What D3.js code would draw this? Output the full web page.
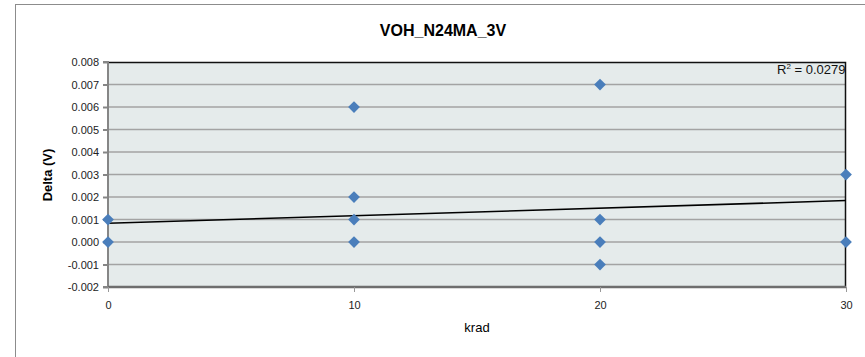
<!DOCTYPE html>
<html lang="en">
<head>
<meta charset="utf-8">
<title>VOH_N24MA_3V</title>
<script src="https://d3js.org/d3.v7.min.js"></script>
<style>
  body { margin: 0; background: #fff; }
  svg { font-family: "Liberation Sans", Arial, sans-serif; }
  .grid line { stroke: #a3a3a3; stroke-width: 1.5; }
  .tick text { fill: #222; }
</style>
</head>
<body>
<div id="chart"></div>
<script>
// data
var kradValues  = [0, 0, 10, 10, 10, 10, 20, 20, 20, 20, 30, 30];
var deltaValues = [0.001, 0.000, 0.006, 0.002, 0.001, 0.000, 0.007, 0.001, 0.000, -0.001, 0.003, 0.000];
var trendX = [0, 30];
var trendY = [0.00083, 0.00184];
var xTicks = [0, 10, 20, 30];
var yTicks = [-0.002, -0.001, 0, 0.001, 0.002, 0.003, 0.004, 0.005, 0.006, 0.007, 0.008];
var chartTitle = "VOH_N24MA_3V";
var rSquared = "0.0279";

var W = 865, H = 357;
var margin = {top: 62, right: 19, bottom: 70, left: 108};
var width = W - margin.left - margin.right,
    height = H - margin.top - margin.bottom;

var svg = d3.select("#chart").append("svg")
    .attr("width", W).attr("height", H);

// chart area border
svg.append("rect")
    .attr("x", 15.5).attr("y", 4.5)
    .attr("width", 870).attr("height", 400)
    .attr("fill", "#fff").attr("stroke", "#8c8c8c");

svg.append("text")
    .attr("x", 443).attr("y", 36)
    .attr("text-anchor", "middle")
    .style("font-weight", "bold").style("font-size", "16px")
    .text(chartTitle);

var g = svg.append("g").attr("transform", "translate(" + margin.left + "," + margin.top + ")");

var x = d3.scaleLinear().domain([0, 30]).range([0, width]);
var y = d3.scaleLinear().domain([-0.002, 0.008]).range([height, 0]);

g.append("rect").attr("width", width).attr("height", height).attr("fill", "#e5ebeb");

// gridlines
g.append("g").attr("class", "grid")
  .selectAll("line").data(yTicks.slice(1, -1)).enter().append("line")
    .attr("x1", 0).attr("x2", width)
    .attr("y1", function(d) { return y(d); }).attr("y2", function(d) { return y(d); });

// top / right frame
g.append("path")
    .attr("d", "M0,0.5H" + (width - 0.5) + "V" + height)
    .attr("fill", "none").attr("stroke", "#111").attr("stroke-width", 1.5);

// axes
var yAxis = d3.axisLeft(y).tickValues(yTicks).tickSize(5).tickPadding(4)
    .tickFormat(d3.format(".3f"));
var yg = g.append("g").call(yAxis);
yg.selectAll("text").style("font-size", "11px").text(function(d) { return d3.format(".3f")(d).replace("−", "-"); });
yg.selectAll("line, path").attr("stroke", "#868686").attr("stroke-width", 2);
yg.select(".domain").attr("d", "M-5," + height + "H0V0H-5");

var xAxis = d3.axisBottom(x).tickValues(xTicks).tickSize(5).tickPadding(9).tickFormat(d3.format("d"));
var xg = g.append("g").attr("transform", "translate(0," + height + ")").call(xAxis);
xg.selectAll("text").style("font-size", "11px");
xg.selectAll(".tick line").attr("stroke", "#999").attr("stroke-width", 1);
xg.select(".domain").attr("d", "M0,0H" + width).attr("stroke", "#6e6e6e").attr("stroke-width", 2.5);

// trend line
var line = d3.line().x(function(d) { return x(d[0]); }).y(function(d) { return y(d[1]); });
g.append("path")
    .datum(d3.zip(trendX, trendY))
    .attr("d", line)
    .attr("fill", "none").attr("stroke", "#000").attr("stroke-width", 1.5);

// markers
var diamond = d3.symbol().type(d3.symbolDiamond2).size(88);
g.selectAll(".pt").data(d3.zip(kradValues, deltaValues)).enter().append("path")
    .attr("class", "pt")
    .attr("transform", function(d) { return "translate(" + x(d[0]) + "," + y(d[1]) + ")"; })
    .attr("d", diamond)
    .attr("fill", "#4a7ebb");

// R squared label
var r2 = svg.append("text").attr("x", 777).attr("y", 74).style("font-size", "13px").attr("fill", "#111");
r2.append("tspan").text("R");
r2.append("tspan").attr("dy", -5).style("font-size", "8px").text("2");
r2.append("tspan").attr("dy", 5).text(" = " + rSquared);

// axis titles
svg.append("text")
    .attr("x", 477).attr("y", 332)
    .attr("text-anchor", "middle").style("font-size", "13px")
    .text("krad");
svg.append("text")
    .attr("transform", "translate(52,175) rotate(-90)")
    .attr("text-anchor", "middle")
    .style("font-size", "13px").style("font-weight", "bold")
    .text("Delta (V)");
</script>
</body>
</html>
